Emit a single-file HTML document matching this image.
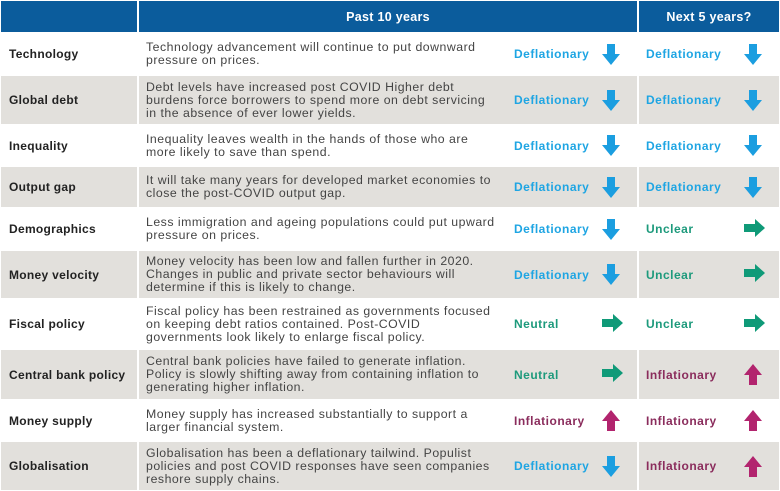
<!DOCTYPE html>
<html><head><meta charset="utf-8"><style>
*{margin:0;padding:0;box-sizing:border-box}
body{width:780px;height:491px;background:#fff;font-family:"Liberation Sans",sans-serif;position:relative;overflow:hidden;color:#333}
.hdr{position:absolute;top:1px;height:31px;background:#0b5c9c;color:#fff;font-weight:bold;font-size:12.5px;letter-spacing:0.3px;display:flex;align-items:center;justify-content:center}
.row{position:absolute;left:1px;width:778px}
.g{background:#e2e0dc}
.c{position:absolute;top:0;bottom:0;display:flex;align-items:center}
.l{left:8px;font-weight:bold;font-size:12px;letter-spacing:0.3px;color:#222}
.d{left:145px;width:352px;font-size:12.3px;letter-spacing:0.5px;line-height:13px;color:#444}
.p{left:513px;font-weight:bold;font-size:12px;letter-spacing:0.5px}
.n{left:645px;font-weight:bold;font-size:12px;letter-spacing:0.5px}
.a1{left:600px}.a2{left:742px}
.de{color:#1ea5e3}.ne{color:#1d9a7c}.in{color:#8a2c5c}
.vl{position:absolute;top:33px;bottom:0;width:2px;background:#fff}
</style></head><body>
<div class="hdr" style="left:1px;width:136px"></div>
<div class="hdr" style="left:139px;width:498px">Past 10 years</div>
<div class="hdr" style="left:639px;width:140px">Next 5 years?</div>
<svg width="0" height="0" style="position:absolute"><defs>
<g id="dn"><path d="M6 1h8v10h5l-9 11-9-11h5z" fill="#1b9ee0"/></g>
<g id="up"><path d="M10 1l9 11h-5v10h-8v-10h-5z" fill="#b2246e"/></g>
<g id="rt"><path d="M1 6h11v-5l10 9-10 9v-5h-11z" fill="#0f9a78"/></g>
</defs></svg>
<div id="rows"></div>
<script>
var R=[
[33,75,"Technology","Technology advancement will continue to put downward pressure on prices.","d","d"],
[75,125,"Global debt","Debt levels have increased post COVID Higher debt burdens force borrowers to spend more on debt servicing in the absence of ever lower yields.","d","d"],
[125,166,"Inequality","Inequality leaves wealth in the hands of those who are more likely to save than spend.","d","d"],
[166,208,"Output gap","It will take many years for developed market economies to close the post-COVID output gap.","d","d"],
[208,250,"Demographics","Less immigration and ageing populations could put upward pressure on prices.","d","u"],
[250,299,"Money velocity","Money velocity has been low and fallen further in 2020. Changes in public and private sector behaviours will determine if this is likely to change.","d","u"],
[299,349,"Fiscal policy","Fiscal policy has been restrained as governments focused on keeping debt ratios contained. Post-COVID governments look likely to enlarge fiscal policy.","n","u"],
[349,400,"Central bank policy","Central bank policies have failed to generate inflation. Policy is slowly shifting away from containing inflation to generating higher inflation.","n","i"],
[400,441,"Money supply","Money supply has increased substantially to support a larger financial system.","i","i"],
[441,491,"Globalisation","Globalisation has been a deflationary tailwind. Populist policies and post COVID responses have seen companies reshore supply chains.","d","i"]];
var M={d:["Deflationary","de","dn"],n:["Neutral","ne","rt"],u:["Unclear","ne","rt"],i:["Inflationary","in","up"]};
var h="";
R.forEach(function(r,i){
var a=M[r[4]],b=M[r[5]];
h+='<div class="row'+(i%2?' g':'')+'" style="top:'+(r[0]+1)+'px;height:'+(r[1]-r[0]-2)+'px">'+
'<div class="c l">'+r[2]+'</div><div class="c d">'+r[3]+'</div>'+
'<div class="c p '+a[1]+'">'+a[0]+'</div><div class="c a1"><svg width="22" height="23"><use href="#'+a[2]+'"/></svg></div>'+
'<div class="c n '+b[1]+'">'+b[0]+'</div><div class="c a2"><svg width="22" height="23"><use href="#'+b[2]+'"/></svg></div></div>';
});
h+='<div class="vl" style="left:137px"></div><div class="vl" style="left:637px"></div>';
document.getElementById("rows").innerHTML=h;
</script>
</body></html>
